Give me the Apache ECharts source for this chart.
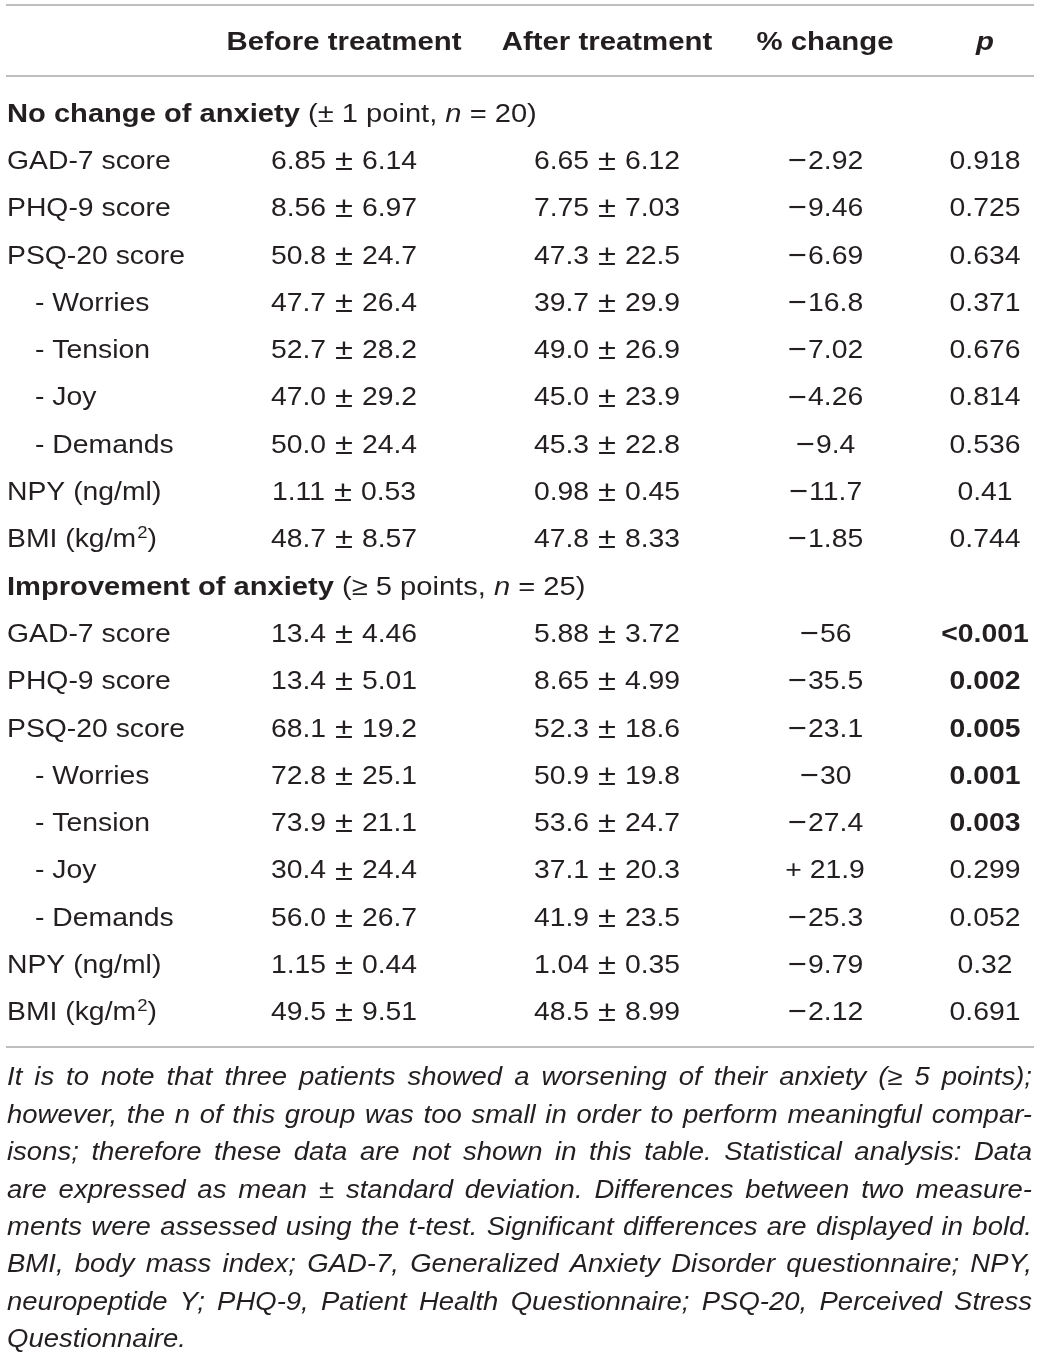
<!DOCTYPE html>
<html><head><meta charset="utf-8">
<script src="https://cdn.jsdelivr.net/npm/echarts@6.0.0/dist/echarts.min.js"></script>
<style>html,body{margin:0;padding:0;background:#fff}#c{width:1040px;height:1353px}</style>
</head><body><div id="c"></div>
<script>
// ---------------- data ----------------
const columnHeaders = ['Before treatment', 'After treatment', '% change', 'p'];
const groupNames = ['No change of anxiety', 'Improvement of anxiety'];
const groupCriteria = ['\u00b1 1 point', '\u2265 5 points'];
const groupN = [20, 25];
const rowLabels = ['GAD-7 score', 'PHQ-9 score', 'PSQ-20 score', '- Worries', '- Tension', '- Joy', '- Demands', 'NPY (ng/ml)', 'BMI (kg/m\u00b2)'];

const before1 = ['6.85 \u00b1 6.14', '8.56 \u00b1 6.97', '50.8 \u00b1 24.7', '47.7 \u00b1 26.4', '52.7 \u00b1 28.2', '47.0 \u00b1 29.2', '50.0 \u00b1 24.4', '1.11 \u00b1 0.53', '48.7 \u00b1 8.57'];
const after1  = ['6.65 \u00b1 6.12', '7.75 \u00b1 7.03', '47.3 \u00b1 22.5', '39.7 \u00b1 29.9', '49.0 \u00b1 26.9', '45.0 \u00b1 23.9', '45.3 \u00b1 22.8', '0.98 \u00b1 0.45', '47.8 \u00b1 8.33'];
const change1 = ['\u22122.92', '\u22129.46', '\u22126.69', '\u221216.8', '\u22127.02', '\u22124.26', '\u22129.4', '\u221211.7', '\u22121.85'];
const p1      = ['0.918', '0.725', '0.634', '0.371', '0.676', '0.814', '0.536', '0.41', '0.744'];

const before2 = ['13.4 \u00b1 4.46', '13.4 \u00b1 5.01', '68.1 \u00b1 19.2', '72.8 \u00b1 25.1', '73.9 \u00b1 21.1', '30.4 \u00b1 24.4', '56.0 \u00b1 26.7', '1.15 \u00b1 0.44', '49.5 \u00b1 9.51'];
const after2  = ['5.88 \u00b1 3.72', '8.65 \u00b1 4.99', '52.3 \u00b1 18.6', '50.9 \u00b1 19.8', '53.6 \u00b1 24.7', '37.1 \u00b1 20.3', '41.9 \u00b1 23.5', '1.04 \u00b1 0.35', '48.5 \u00b1 8.99'];
const change2 = ['\u221256', '\u221235.5', '\u221223.1', '\u221230', '\u221227.4', '+ 21.9', '\u221225.3', '\u22129.79', '\u22122.12'];
const p2      = ['<0.001', '0.002', '0.005', '0.001', '0.003', '0.299', '0.052', '0.32', '0.691'];

const footnoteLines = [
  'It is to note that three patients showed a worsening of their anxiety (\u2265 5 points);',
  'however, the n of this group was too small in order to perform meaningful compar-',
  'isons; therefore these data are not shown in this table. Statistical analysis: Data',
  'are expressed as mean \u00b1 standard deviation. Differences between two measure-',
  'ments were assessed using the t-test. Significant differences are displayed in bold.',
  'BMI, body mass index; GAD-7, Generalized Anxiety Disorder questionnaire; NPY,',
  'neuropeptide Y; PHQ-9, Patient Health Questionnaire; PSQ-20, Perceived Stress',
  'Questionnaire.'
];

// ---------------- layout / style ----------------
const FONT = '"Liberation Sans", Arial, sans-serif';
const INK = '#231f20';
const RULE = '#a8a8a8';
const FS = 26;          // body font size
const FS_NOTE = 25;     // footnote font size
const SX = 1.09;        // horizontal stretch of body glyphs
const SX_BOLD = 1.13;   // stretch of bold headers
const SX_TITLE = 1.12;  // stretch of group title rows
const SX_NOTE = 1.10;   // stretch of footnote glyphs
const Y_OFF = 2.5;      // optical baseline correction
const COL_X = [7, 344, 607, 825, 985]; // label left edge, then column centres (px on hidden x axis)
const INDENT = 28;

const groups = [
  {before: before1, after: after1, change: change1, p: p1},
  {before: before2, after: after2, change: change2, p: p2}
];
const rows = [];
groups.forEach((g, gi) => {
  rows.push({kind: 'title', gi});
  rowLabels.forEach((l, i) => rows.push({kind: 'row', gi, i}));
});
const rowIds = rows.map((r, k) => 'r' + k);

function isSig(p) { return parseFloat(p.replace('<', '')) < 0.05; }

const richBase = {
  b: {fontFamily: FONT, fontSize: FS, fontWeight: 'bold', fill: INK, color: INK},
  r: {fontFamily: FONT, fontSize: FS, fill: INK, color: INK},
  i: {fontFamily: FONT, fontSize: FS, fontStyle: 'italic', fill: INK, color: INK},
  sup: {fontFamily: FONT, fontSize: 17, fill: INK, color: INK, padding: [0, 0, 14, 1]},
  s: {fontFamily: FONT, fontSize: 30, fill: INK, color: INK, padding: [0, 1, 0, 1]}
};

function symbolRich(s) {
  return s.replace(/[\u00b1\u2212]/g, m => '{s|' + m + '}');
}

function textEl(x, y, text, extra, sx) {
  const st = Object.assign({
    text: text, fill: INK, fontFamily: FONT, fontSize: FS,
    align: 'center', verticalAlign: 'middle',
    textAlign: 'center', textVerticalAlign: 'middle',
    rich: richBase
  }, extra || {});
  return {type: 'text', x: x, y: y + Y_OFF, scaleX: sx || SX, style: st};
}

function renderBody(params, api) {
  const k = api.value(1);
  const r = rows[k];
  const y = api.coord([0, k])[1];
  const cx = COL_X.map(v => api.coord([v, k])[0]);
  const children = [];
  if (r.kind === 'title') {
    const t = '{b|' + groupNames[r.gi] + '}{r| (' + groupCriteria[r.gi] + ', }{i|n}{r| = ' + groupN[r.gi] + ')}';
    children.push(textEl(cx[0], y, t, {align: 'left', textAlign: 'left'}, SX_TITLE));
  } else {
    const g = groups[r.gi];
    const lab = rowLabels[r.i];
    let lx = cx[0];
    if (lab.indexOf('- ') === 0) lx += INDENT;
    let labText;
    if (lab.indexOf('\u00b2') >= 0) {
      const parts = lab.split('\u00b2');
      labText = '{r|' + parts[0] + '}{sup|2}{r|' + parts[1] + '}';
    } else {
      labText = '{r|' + lab + '}';
    }
    children.push(textEl(lx, y, labText, {align: 'left', textAlign: 'left'}));
    children.push(textEl(cx[1], y, symbolRich(g.before[r.i])));
    children.push(textEl(cx[2], y, symbolRich(g.after[r.i])));
    children.push(textEl(cx[3], y, symbolRich(g.change[r.i])));
    const p = g.p[r.i];
    children.push(textEl(cx[4], y, p, isSig(p) ? {fontWeight: 'bold'} : {}));
  }
  return {type: 'group', children: children};
}

function renderHeader(params, api) {
  const y = api.coord([0, 0])[1];
  const children = columnHeaders.map((h, j) => {
    const x = api.coord([COL_X[j + 1], 0])[0];
    const extra = {fontWeight: 'bold'};
    if (h === 'p') extra.fontStyle = 'italic';
    return textEl(x, y, h, extra, SX_BOLD);
  });
  return {type: 'group', children: children};
}

// footnote: justified italic lines, word by word
const NOTE_LEFT = 7, NOTE_RIGHT = 1032, NOTE_TOP = 1076, NOTE_STEP = 37.4;
const noteFont = 'italic ' + FS_NOTE + 'px ' + FONT;
const measureCtx = document.createElement('canvas').getContext('2d');
measureCtx.font = noteFont;
const noteEls = [];
footnoteLines.forEach((line, li) => {
  const y = NOTE_TOP + li * NOTE_STEP + Y_OFF;
  const words = line.split(' ');
  const widths = words.map(w => measureCtx.measureText(w).width * SX_NOTE);
  const total = widths.reduce((a, b) => a + b, 0);
  const last = li === footnoteLines.length - 1;
  const gap = (!last && words.length > 1) ? (NOTE_RIGHT - NOTE_LEFT - total) / (words.length - 1)
                                          : measureCtx.measureText(' ').width * SX_NOTE;
  let x = NOTE_LEFT;
  words.forEach((w, wi) => {
    noteEls.push({
      type: 'text', x: x, y: y, scaleX: SX_NOTE, silent: true,
      style: {text: w, fill: INK, font: noteFont,
              align: 'left', verticalAlign: 'middle', textAlign: 'left', textVerticalAlign: 'middle'}
    });
    x += widths[wi] + gap;
  });
});

const ruleYs = [5, 76, 1047];
const ruleEls = ruleYs.map(y => ({
  type: 'line', silent: true,
  shape: {x1: 6, y1: y, x2: 1034, y2: y},
  style: {stroke: RULE, lineWidth: 1.6}
}));

const chart = echarts.init(document.getElementById('c'), null, {renderer: 'canvas'});
chart.setOption({
  backgroundColor: '#ffffff',
  animation: false,
  grid: [
    {left: 0, right: 0, top: 5, height: 71},
    {left: 0, right: 0, top: 88.35, height: 946}
  ],
  xAxis: [
    {type: 'value', min: 0, max: 1040, gridIndex: 0, show: false},
    {type: 'value', min: 0, max: 1040, gridIndex: 1, show: false}
  ],
  yAxis: [
    {type: 'category', data: ['header'], gridIndex: 0, show: false},
    {type: 'category', data: rowIds, gridIndex: 1, inverse: true, show: false}
  ],
  series: [
    {type: 'custom', xAxisIndex: 0, yAxisIndex: 0, data: [[0, 0]], encode: {x: 0, y: 1}, renderItem: renderHeader, silent: true},
    {type: 'custom', xAxisIndex: 1, yAxisIndex: 1, data: rows.map((r, k) => [0, k]), encode: {x: 0, y: 1}, renderItem: renderBody, silent: true}
  ],
  graphic: ruleEls.concat(noteEls)
});
</script>
</body></html>
